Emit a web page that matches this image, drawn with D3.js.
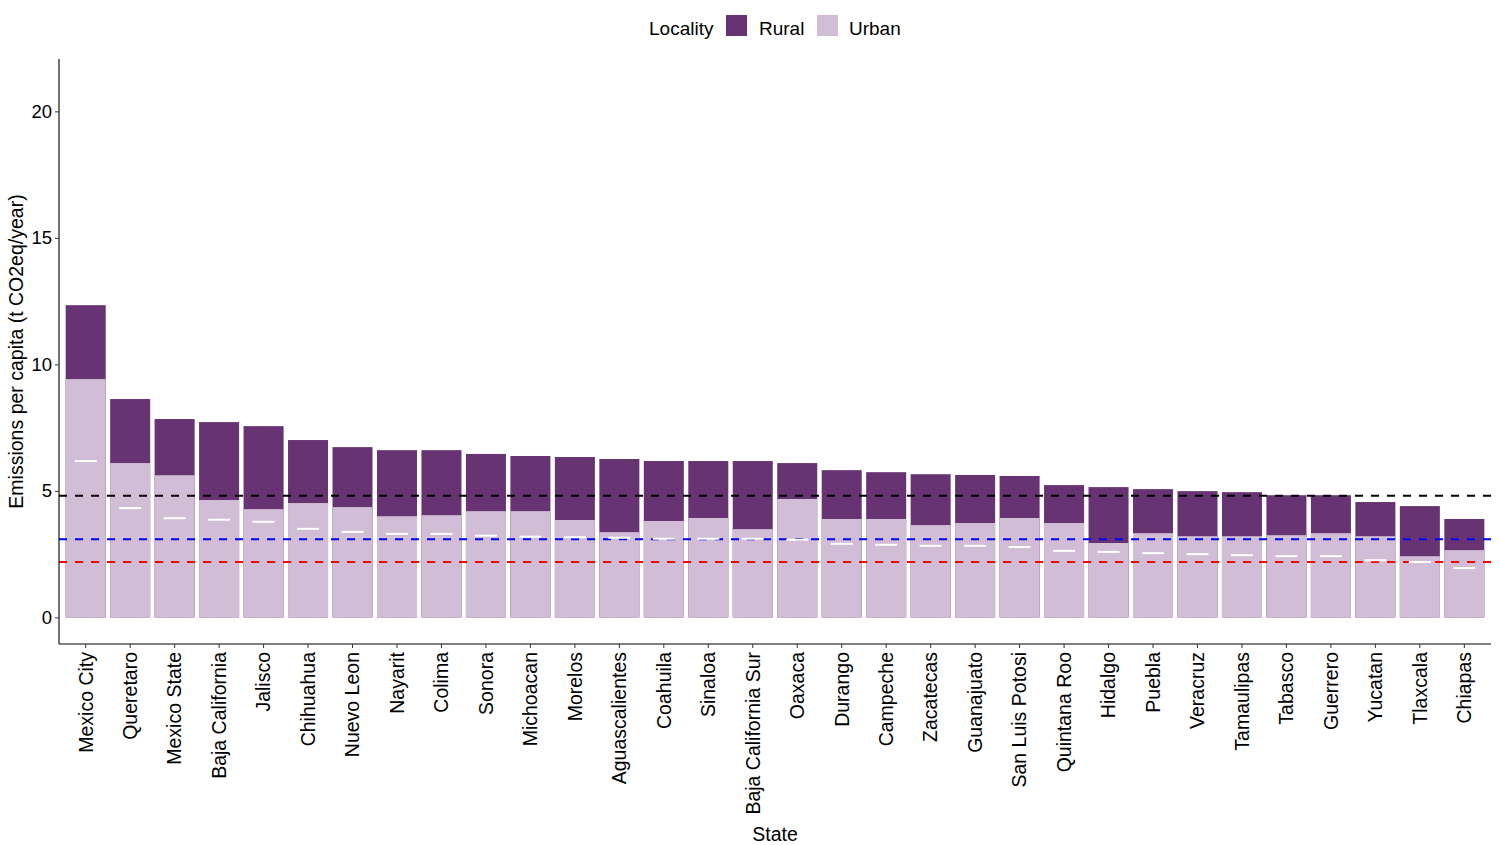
<!DOCTYPE html>
<html>
<head>
<meta charset="utf-8">
<script src="https://cdn.jsdelivr.net/npm/d3@7"></script>
<style>
  html, body { margin: 0; padding: 0; background: #fff; }
  svg { display: block; font-family: "Liberation Sans", Arial, sans-serif; }
</style>
</head>
<body>
<svg id="chart" width="1500" height="845"></svg>
<script>
const states = ["Mexico City","Queretaro","Mexico State","Baja California","Jalisco","Chihuahua","Nuevo Leon","Nayarit","Colima","Sonora","Michoacan","Morelos","Aguascalientes","Coahuila","Sinaloa","Baja California Sur","Oaxaca","Durango","Campeche","Zacatecas","Guanajuato","San Luis Potosi","Quintana Roo","Hidalgo","Puebla","Veracruz","Tamaulipas","Tabasco","Guerrero","Yucatan","Tlaxcala","Chiapas"];
const ruralValues = [12.34,8.63,7.84,7.72,7.56,7.01,6.73,6.61,6.61,6.46,6.38,6.34,6.26,6.18,6.18,6.18,6.10,5.82,5.74,5.66,5.63,5.59,5.23,5.15,5.07,4.99,4.95,4.83,4.83,4.56,4.40,3.89];
const urbanValues = [9.42,6.10,5.62,4.64,4.28,4.52,4.36,4.00,4.04,4.20,4.20,3.85,3.37,3.81,3.93,3.49,4.68,3.89,3.89,3.65,3.73,3.93,3.73,2.94,3.33,3.21,3.21,3.25,3.33,3.21,2.42,2.66];
const markerValues = [6.18,4.32,3.92,3.86,3.78,3.50,3.38,3.30,3.30,3.23,3.19,3.17,3.15,3.11,3.11,3.11,3.07,2.91,2.87,2.83,2.83,2.78,2.63,2.59,2.54,2.50,2.46,2.42,2.42,2.26,2.19,1.95];
const refValues = [4.81, 3.09, 2.19];
const refColors = ["#000000", "#0000FF", "#FF0000"];
const yTicks = [0, 5, 10, 15, 20];
const legendKeys = ["Rural", "Urban"];
const colors = { Rural: "#673372", Urban: "#D1BDD5" };

const svg = d3.select("#chart");
const pLeft = 59, pRight = 1491, pTop = 59, pBottom = 644;

const x = d3.scaleBand().domain(states).range([pLeft, pRight]).paddingInner(0.1).paddingOuter(0.15);
const y = d3.scaleLinear().domain([-1.051, 22.07]).range([pBottom, pTop]);

// Rural bars (top)
svg.append("g").selectAll("rect").data(states).join("rect")
  .attr("x", d => x(d))
  .attr("width", x.bandwidth())
  .attr("y", (d, i) => y(ruralValues[i]))
  .attr("height", (d, i) => y(0) - y(ruralValues[i]))
  .attr("fill", colors.Rural);

// Urban bars
svg.append("g").selectAll("rect").data(states).join("rect")
  .attr("x", d => x(d))
  .attr("width", x.bandwidth())
  .attr("y", (d, i) => y(urbanValues[i]))
  .attr("height", (d, i) => y(0) - y(urbanValues[i]))
  .attr("fill", colors.Urban);

// Reference dashed lines
svg.append("g").selectAll("line").data(refValues).join("line")
  .attr("x1", pLeft).attr("x2", pRight)
  .attr("y1", d => y(d)).attr("y2", d => y(d))
  .attr("stroke", (d, i) => refColors[i])
  .attr("stroke-width", 2)
  .attr("stroke-dasharray", "8,8");

// White markers
const mw = 22;
svg.append("g").selectAll("line").data(states).join("line")
  .attr("x1", d => x(d) + x.bandwidth() / 2 - mw / 2)
  .attr("x2", d => x(d) + x.bandwidth() / 2 + mw / 2)
  .attr("y1", (d, i) => y(markerValues[i]))
  .attr("y2", (d, i) => y(markerValues[i]))
  .attr("stroke", "#ffffff")
  .attr("stroke-width", 2);

// Axes
const yAxis = svg.append("g").attr("transform", `translate(${pLeft},0)`)
  .call(d3.axisLeft(y).tickValues(yTicks).tickSize(4).tickPadding(3).tickSizeOuter(0));
yAxis.select(".domain").attr("d", `M0,${pTop}V${pBottom}`).attr("stroke", "#000").attr("stroke-width", 1.1);
yAxis.selectAll(".tick line").attr("stroke", "#333");
yAxis.selectAll(".tick text").attr("font-size", 18.5).attr("fill", "#000")
  .attr("font-family", "'Liberation Sans', Arial, sans-serif");

const xAxis = svg.append("g").attr("transform", `translate(0,${pBottom})`)
  .call(d3.axisBottom(x).tickSize(4).tickSizeOuter(0));
xAxis.select(".domain").attr("d", `M${pLeft},0H${pRight}`).attr("stroke", "#000").attr("stroke-width", 1.1);
xAxis.selectAll(".tick line").attr("stroke", "#333");
xAxis.selectAll(".tick text")
  .attr("font-size", 19.5).attr("fill", "#000")
  .attr("font-family", "'Liberation Sans', Arial, sans-serif")
  .attr("transform", "rotate(-90)")
  .attr("text-anchor", "end")
  .attr("x", -8)
  .attr("y", 0)
  .attr("dy", "0.35em");

// Axis titles
svg.append("text")
  .attr("x", (pLeft + pRight) / 2).attr("y", 841)
  .attr("text-anchor", "middle").attr("font-size", 19.5).attr("fill", "#000")
  .text("State");
svg.append("text")
  .attr("transform", `translate(23,${(pTop + pBottom) / 2}) rotate(-90)`)
  .attr("text-anchor", "middle").attr("font-size", 19.5).attr("fill", "#000")
  .text("Emissions per capita (t CO2eq/year)");

// Legend
const lg = svg.append("g");
lg.append("text").attr("x", 649).attr("y", 35).attr("font-size", 19).attr("fill", "#000").text("Locality");
const keyX = [726, 817];
const labX = [759, 849];
legendKeys.forEach((k, i) => {
  lg.append("rect").attr("x", keyX[i]).attr("y", 15).attr("width", 21).attr("height", 21).attr("fill", colors[k]);
  lg.append("text").attr("x", labX[i]).attr("y", 35).attr("font-size", 19).attr("fill", "#000").text(k);
});
</script>
</body>
</html>
